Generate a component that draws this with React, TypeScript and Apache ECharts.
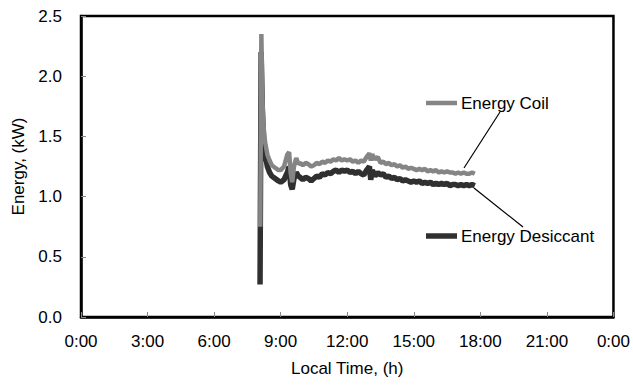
import React, { useEffect, useRef } from "react";
import * as echarts from "echarts";

const coilTimes = [8.08, 8.13, 8.17, 8.22, 8.3, 8.4, 8.5, 8.6, 8.75, 8.9, 9.0, 9.15, 9.3, 9.38, 9.45, 9.52, 9.6, 9.7, 9.8,
  9.875, 10.0, 10.125, 10.25, 10.375, 10.5, 10.625, 10.75, 10.875, 11.0, 11.125, 11.25, 11.375, 11.5, 11.625, 11.75, 11.875, 12.0, 12.125, 12.25, 12.375, 12.5, 12.625, 12.75, 12.875, 13.0, 13.06, 13.125, 13.25, 13.375, 13.5, 13.625, 13.75, 13.875, 14.0, 14.125, 14.25, 14.375, 14.5, 14.625, 14.75, 14.875, 15.0, 15.125, 15.25, 15.375, 15.5, 15.625, 15.75, 15.875, 16.0, 16.125, 16.25, 16.375, 16.5, 16.625, 16.75, 16.875, 17.0, 17.125, 17.25, 17.375, 17.5, 17.625, 17.75];
const coilValues = [0.75, 2.35, 1.85, 1.6, 1.45, 1.35, 1.3, 1.26, 1.24, 1.22, 1.22, 1.25, 1.35, 1.37, 1.2, 1.12, 1.25, 1.32, 1.27,
  1.28, 1.26, 1.28, 1.27, 1.25, 1.26, 1.28, 1.27, 1.29, 1.28, 1.3, 1.29, 1.31, 1.3, 1.32, 1.3, 1.31, 1.3, 1.31, 1.29, 1.3, 1.28, 1.3, 1.29, 1.33, 1.36, 1.3, 1.35, 1.31, 1.33, 1.28, 1.29, 1.27, 1.28, 1.26, 1.27, 1.25, 1.26, 1.24, 1.25, 1.23, 1.24, 1.23, 1.22, 1.23, 1.22, 1.23, 1.21, 1.22, 1.21, 1.22, 1.2, 1.21, 1.2, 1.21, 1.2, 1.2, 1.19, 1.2, 1.19, 1.2, 1.19, 1.19, 1.2, 1.19];

const desTimes = [8.07, 8.12, 8.17, 8.22, 8.3, 8.4, 8.5, 8.6, 8.75, 8.9, 9.0, 9.15, 9.3, 9.38, 9.45, 9.52, 9.6, 9.7, 9.8,
  9.875, 10.0, 10.125, 10.25, 10.375, 10.5, 10.625, 10.75, 10.875, 11.0, 11.125, 11.25, 11.375, 11.5, 11.625, 11.75, 11.875, 12.0, 12.125, 12.25, 12.375, 12.5, 12.625, 12.75, 12.875, 13.0, 13.06, 13.125, 13.25, 13.375, 13.5, 13.625, 13.75, 13.875, 14.0, 14.125, 14.25, 14.375, 14.5, 14.625, 14.75, 14.875, 15.0, 15.125, 15.25, 15.375, 15.5, 15.625, 15.75, 15.875, 16.0, 16.125, 16.25, 16.375, 16.5, 16.625, 16.75, 16.875, 17.0, 17.125, 17.25, 17.375, 17.5, 17.625, 17.75];
const desValues = [0.27, 2.2, 1.75, 1.5, 1.35, 1.25, 1.2, 1.17, 1.15, 1.13, 1.12, 1.14, 1.2, 1.25, 1.1, 1.06, 1.15, 1.2, 1.17,
  1.16, 1.14, 1.16, 1.15, 1.13, 1.15, 1.17, 1.16, 1.19, 1.18, 1.2, 1.19, 1.21, 1.22, 1.2, 1.22, 1.21, 1.22, 1.2, 1.21, 1.19, 1.21, 1.19, 1.18, 1.22, 1.25, 1.14, 1.22, 1.17, 1.2, 1.18, 1.19, 1.16, 1.17, 1.15, 1.16, 1.14, 1.15, 1.13, 1.14, 1.13, 1.12, 1.13, 1.12, 1.13, 1.11, 1.12, 1.11, 1.12, 1.1, 1.11, 1.1, 1.11, 1.1, 1.11, 1.09, 1.1, 1.1, 1.09, 1.1, 1.09, 1.1, 1.09, 1.1, 1.09];

const seriesNames = ["Energy Coil", "Energy Desiccant"];
const FONT = "Liberation Sans, Arial, sans-serif";

export default function App() {
  const ref = useRef<HTMLDivElement>(null);
  useEffect(() => {
    if (!ref.current) return;
    const chart = echarts.init(ref.current, undefined, { renderer: "svg" });
    const coilColor = "#858585";
    const desColor = "#303030";
    chart.setOption({
      animation: false,
      backgroundColor: "#ffffff",
      textStyle: { fontFamily: FONT },
      grid: {
        left: 81,
        right: 17,
        top: 16,
        bottom: 68,
        show: true,
        borderColor: "#000",
        borderWidth: 2.5,
        backgroundColor: "transparent",
      },
      xAxis: {
        type: "value",
        min: 0,
        max: 24,
        interval: 3,
        name: "Local Time, (h)",
        nameLocation: "middle",
        nameGap: 43,
        nameTextStyle: { fontSize: 17, color: "#000", fontFamily: FONT },
        axisLine: { lineStyle: { color: "#000", width: 2.5 } },
        axisTick: { inside: true, length: 5, lineStyle: { color: "#888" } },
        axisLabel: {
          fontSize: 17,
          color: "#000",
          margin: 16,
          fontFamily: FONT,
          formatter: (v: number) => `${v % 24}:00`,
        },
        splitLine: { show: false },
      },
      yAxis: {
        type: "value",
        min: 0,
        max: 2.5,
        interval: 0.5,
        name: "Energy, (kW)",
        nameLocation: "middle",
        nameGap: 54,
        nameTextStyle: { fontSize: 17, color: "#000", fontFamily: FONT },
        axisLine: { show: true, lineStyle: { color: "#000", width: 2.5 } },
        axisTick: { show: true, inside: true, length: 5, lineStyle: { color: "#888" } },
        axisLabel: {
          fontSize: 17,
          color: "#000",
          margin: 19,
          fontFamily: FONT,
          formatter: (v: number) => v.toFixed(1),
        },
        splitLine: { show: false },
      },
      series: [
        {
          name: seriesNames[1],
          type: "line",
          showSymbol: false,
          data: desTimes.map((t, i) => [t, desValues[i]]),
          lineStyle: { color: desColor, width: 5.5 },
          itemStyle: { color: desColor },
          z: 2,
        },
        {
          name: seriesNames[0],
          type: "line",
          showSymbol: false,
          data: coilTimes.map((t, i) => [t, coilValues[i]]),
          lineStyle: { color: coilColor, width: 4.5 },
          itemStyle: { color: coilColor },
          z: 3,
        },
      ],
      graphic: [
        { type: "line", shape: { x1: 426, y1: 103, x2: 457, y2: 103 }, style: { stroke: coilColor, lineWidth: 4.5 } },
        { type: "text", x: 461, y: 103, style: { text: seriesNames[0], fontSize: 17, fontFamily: FONT, fill: "#000", verticalAlign: "middle" } },
        { type: "line", shape: { x1: 426, y1: 236, x2: 457, y2: 236 }, style: { stroke: desColor, lineWidth: 5.5 } },
        { type: "text", x: 461, y: 236, style: { text: seriesNames[1], fontSize: 17, fontFamily: FONT, fill: "#000", verticalAlign: "middle" } },
        { type: "line", shape: { x1: 500, y1: 112, x2: 464, y2: 168 }, style: { stroke: "#000", lineWidth: 1.2 } },
        { type: "line", shape: { x1: 474, y1: 188, x2: 523, y2: 227 }, style: { stroke: "#000", lineWidth: 1.2 } },
      ],
    });
    return () => chart.dispose();
  }, []);
  return <div ref={ref} style={{ width: 633, height: 385, position: "absolute", left: 0, top: 0 }} />;
}
